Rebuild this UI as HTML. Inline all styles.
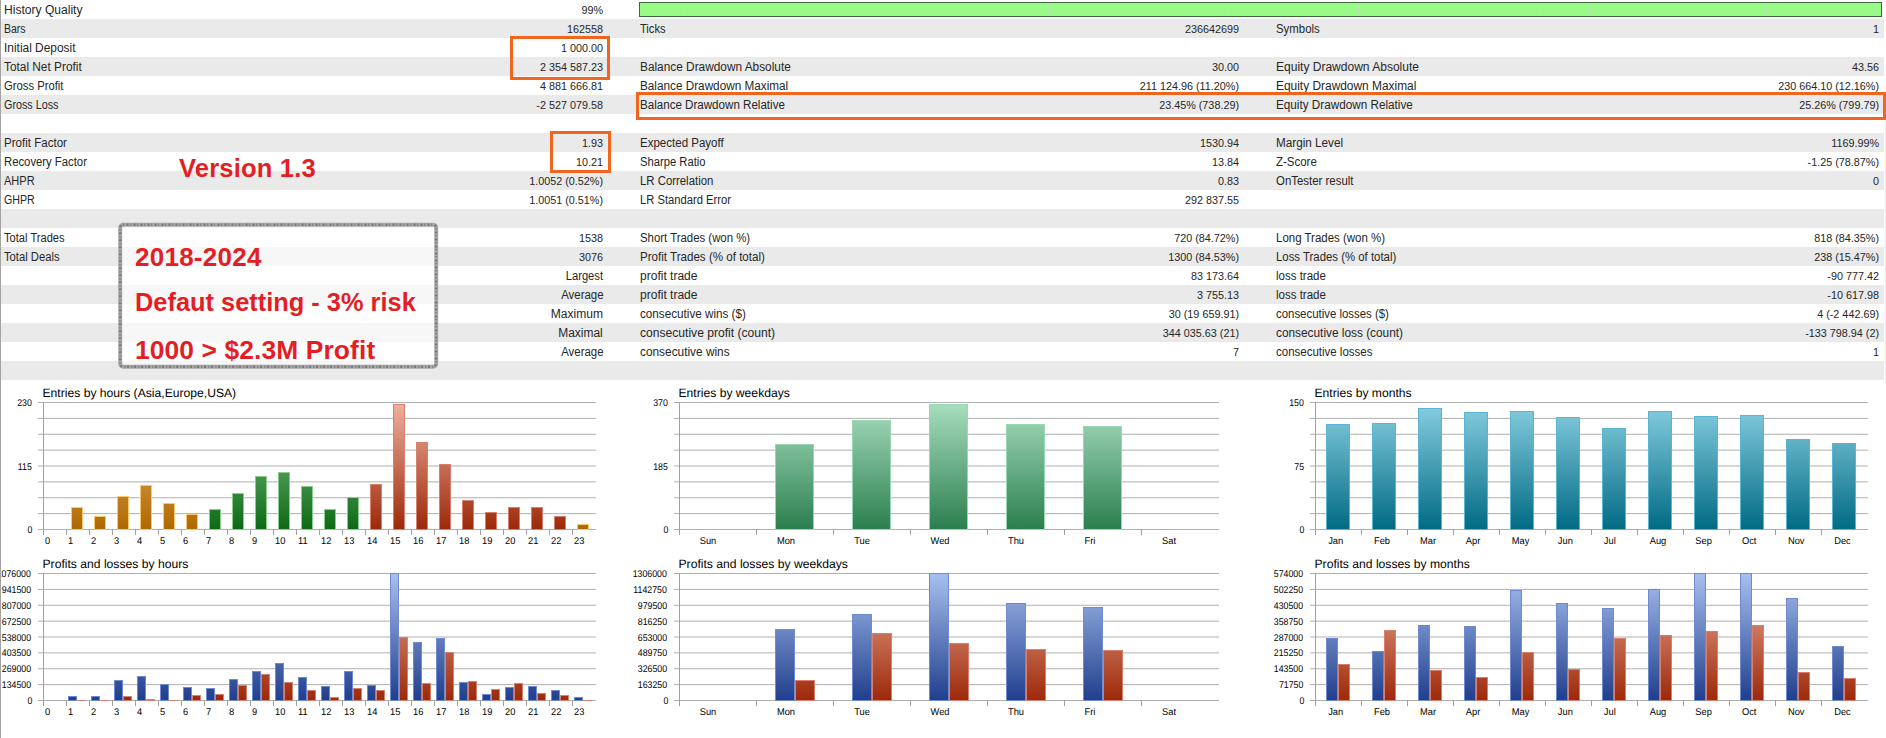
<!DOCTYPE html>
<html><head><meta charset="utf-8"><style>
html,body{margin:0;padding:0;background:#fff;}
body{width:1886px;height:738px;overflow:hidden;position:relative;font-family:"Liberation Sans",sans-serif;color:#000;}
.r{position:absolute;left:1px;width:1883px;height:19px;}
.g{background:#eaeaea;}
.t{position:absolute;top:1px;height:19px;line-height:19px;white-space:nowrap;color:#262626;}
.l{font-size:12.00px;}
.s{display:inline-block;transform-origin:0 50%;}
.sr{display:inline-block;transform-origin:100% 50%;}
.v{font-size:10.80px;text-align:right;}
.ob{position:absolute;border:3px solid #f0661e;box-sizing:border-box;}
.red{position:absolute;color:#e31e24;font-weight:bold;white-space:nowrap;line-height:1;}
</style></head><body>

<div style="position:absolute;left:0;top:0;width:1px;height:738px;background:#a3a3a3"></div>
<svg style="position:absolute;left:0;top:0" width="1886" height="738" font-family="Liberation Sans, sans-serif" text-rendering="geometricPrecision"><clipPath id="cp"><rect x="1" y="0" width="1885" height="738"/></clipPath><g clip-path="url(#cp)">
<defs><linearGradient id="gR1" gradientUnits="userSpaceOnUse" x1="0" y1="402" x2="0" y2="530"><stop offset="0" stop-color="#f0b2a0"/><stop offset="1" stop-color="#9c2808"/></linearGradient><linearGradient id="gO1" gradientUnits="userSpaceOnUse" x1="0" y1="402" x2="0" y2="530"><stop offset="0" stop-color="#eec080"/><stop offset="1" stop-color="#b06800"/></linearGradient><linearGradient id="gG1" gradientUnits="userSpaceOnUse" x1="0" y1="402" x2="0" y2="530"><stop offset="0" stop-color="#98cc98"/><stop offset="1" stop-color="#0a6a14"/></linearGradient><linearGradient id="gW" gradientUnits="userSpaceOnUse" x1="0" y1="402" x2="0" y2="530"><stop offset="0" stop-color="#aadfc0"/><stop offset="1" stop-color="#2a7e4e"/></linearGradient><linearGradient id="gM" gradientUnits="userSpaceOnUse" x1="0" y1="402" x2="0" y2="530"><stop offset="0" stop-color="#8ad0e2"/><stop offset="1" stop-color="#006a84"/></linearGradient><linearGradient id="gB2" gradientUnits="userSpaceOnUse" x1="0" y1="573" x2="0" y2="701"><stop offset="0" stop-color="#a8c0f0"/><stop offset="1" stop-color="#1f3e8c"/></linearGradient><linearGradient id="gR2" gradientUnits="userSpaceOnUse" x1="0" y1="573" x2="0" y2="701"><stop offset="0" stop-color="#f0b2a0"/><stop offset="1" stop-color="#9c2808"/></linearGradient></defs>
<line x1="38" y1="402.500" x2="596.0" y2="402.500" stroke="#b0b0b0" stroke-width="1"/>
<line x1="38" y1="418.375" x2="596.0" y2="418.375" stroke="#b0b0b0" stroke-width="1"/>
<line x1="38" y1="434.250" x2="596.0" y2="434.250" stroke="#b0b0b0" stroke-width="1"/>
<line x1="38" y1="450.125" x2="596.0" y2="450.125" stroke="#b0b0b0" stroke-width="1"/>
<line x1="38" y1="466.000" x2="596.0" y2="466.000" stroke="#b0b0b0" stroke-width="1"/>
<line x1="38" y1="481.875" x2="596.0" y2="481.875" stroke="#b0b0b0" stroke-width="1"/>
<line x1="38" y1="497.750" x2="596.0" y2="497.750" stroke="#b0b0b0" stroke-width="1"/>
<line x1="38" y1="513.625" x2="596.0" y2="513.625" stroke="#b0b0b0" stroke-width="1"/>
<line x1="38" y1="529.500" x2="596.0" y2="529.500" stroke="#b0b0b0" stroke-width="1"/>
<line x1="43.5" y1="402" x2="43.5" y2="534" stroke="#a0a0a0" stroke-width="1"/>
<line x1="43.5" y1="529" x2="43.5" y2="535" stroke="#a0a0a0" stroke-width="1"/>
<line x1="66.5" y1="529" x2="66.5" y2="535" stroke="#a0a0a0" stroke-width="1"/>
<line x1="89.5" y1="529" x2="89.5" y2="535" stroke="#a0a0a0" stroke-width="1"/>
<line x1="112.5" y1="529" x2="112.5" y2="535" stroke="#a0a0a0" stroke-width="1"/>
<line x1="135.5" y1="529" x2="135.5" y2="535" stroke="#a0a0a0" stroke-width="1"/>
<line x1="158.5" y1="529" x2="158.5" y2="535" stroke="#a0a0a0" stroke-width="1"/>
<line x1="181.5" y1="529" x2="181.5" y2="535" stroke="#a0a0a0" stroke-width="1"/>
<line x1="204.5" y1="529" x2="204.5" y2="535" stroke="#a0a0a0" stroke-width="1"/>
<line x1="227.5" y1="529" x2="227.5" y2="535" stroke="#a0a0a0" stroke-width="1"/>
<line x1="250.5" y1="529" x2="250.5" y2="535" stroke="#a0a0a0" stroke-width="1"/>
<line x1="273.5" y1="529" x2="273.5" y2="535" stroke="#a0a0a0" stroke-width="1"/>
<line x1="296.5" y1="529" x2="296.5" y2="535" stroke="#a0a0a0" stroke-width="1"/>
<line x1="319.5" y1="529" x2="319.5" y2="535" stroke="#a0a0a0" stroke-width="1"/>
<line x1="342.5" y1="529" x2="342.5" y2="535" stroke="#a0a0a0" stroke-width="1"/>
<line x1="365.5" y1="529" x2="365.5" y2="535" stroke="#a0a0a0" stroke-width="1"/>
<line x1="388.5" y1="529" x2="388.5" y2="535" stroke="#a0a0a0" stroke-width="1"/>
<line x1="411.5" y1="529" x2="411.5" y2="535" stroke="#a0a0a0" stroke-width="1"/>
<line x1="434.5" y1="529" x2="434.5" y2="535" stroke="#a0a0a0" stroke-width="1"/>
<line x1="457.5" y1="529" x2="457.5" y2="535" stroke="#a0a0a0" stroke-width="1"/>
<line x1="480.5" y1="529" x2="480.5" y2="535" stroke="#a0a0a0" stroke-width="1"/>
<line x1="503.5" y1="529" x2="503.5" y2="535" stroke="#a0a0a0" stroke-width="1"/>
<line x1="526.5" y1="529" x2="526.5" y2="535" stroke="#a0a0a0" stroke-width="1"/>
<line x1="549.5" y1="529" x2="549.5" y2="535" stroke="#a0a0a0" stroke-width="1"/>
<line x1="572.5" y1="529" x2="572.5" y2="535" stroke="#a0a0a0" stroke-width="1"/>
<rect x="71.5" y="507.5" width="11" height="22" fill="url(#gO1)" stroke="#f6c870" stroke-width="1"/>
<rect x="94.5" y="516.5" width="11" height="13" fill="url(#gO1)" stroke="#f6c870" stroke-width="1"/>
<rect x="117.5" y="496.5" width="11" height="33" fill="url(#gO1)" stroke="#f6c870" stroke-width="1"/>
<rect x="140.5" y="485.5" width="11" height="44" fill="url(#gO1)" stroke="#f6c870" stroke-width="1"/>
<rect x="163.5" y="503.5" width="11" height="26" fill="url(#gO1)" stroke="#f6c870" stroke-width="1"/>
<rect x="186.5" y="514.5" width="11" height="15" fill="url(#gO1)" stroke="#f6c870" stroke-width="1"/>
<rect x="209.5" y="509.5" width="11" height="20" fill="url(#gG1)" stroke="#8ccc8c" stroke-width="1"/>
<rect x="232.5" y="493.5" width="11" height="36" fill="url(#gG1)" stroke="#8ccc8c" stroke-width="1"/>
<rect x="255.5" y="476.5" width="11" height="53" fill="url(#gG1)" stroke="#8ccc8c" stroke-width="1"/>
<rect x="278.5" y="472.5" width="11" height="57" fill="url(#gG1)" stroke="#8ccc8c" stroke-width="1"/>
<rect x="301.5" y="486.5" width="11" height="43" fill="url(#gG1)" stroke="#8ccc8c" stroke-width="1"/>
<rect x="324.5" y="509.5" width="11" height="20" fill="url(#gG1)" stroke="#8ccc8c" stroke-width="1"/>
<rect x="347.5" y="497.5" width="11" height="32" fill="url(#gG1)" stroke="#8ccc8c" stroke-width="1"/>
<rect x="370.5" y="484.5" width="11" height="45" fill="url(#gR1)" stroke="#d88070" stroke-width="1"/>
<rect x="393.5" y="404.5" width="11" height="125" fill="url(#gR1)" stroke="#d88070" stroke-width="1"/>
<rect x="416.5" y="442.5" width="11" height="87" fill="url(#gR1)" stroke="#d88070" stroke-width="1"/>
<rect x="439.5" y="464.5" width="11" height="65" fill="url(#gR1)" stroke="#d88070" stroke-width="1"/>
<rect x="462.5" y="500.5" width="11" height="29" fill="url(#gR1)" stroke="#d88070" stroke-width="1"/>
<rect x="485.5" y="512.5" width="11" height="17" fill="url(#gR1)" stroke="#d88070" stroke-width="1"/>
<rect x="508.5" y="507.5" width="11" height="22" fill="url(#gR1)" stroke="#d88070" stroke-width="1"/>
<rect x="531.5" y="507.5" width="11" height="22" fill="url(#gR1)" stroke="#d88070" stroke-width="1"/>
<rect x="554.5" y="516.5" width="11" height="13" fill="url(#gR1)" stroke="#d88070" stroke-width="1"/>
<rect x="577.5" y="524.5" width="11" height="5" fill="url(#gO1)" stroke="#f6c870" stroke-width="1"/>
<text x="42.5" y="396.7" font-size="12.15" fill="#000">Entries by hours (Asia,Europe,USA)</text>
<text transform="translate(31.80 406.00) scale(0.895 1)" font-size="9.8" text-anchor="end" fill="#000">230</text>
<text transform="translate(31.80 469.50) scale(0.895 1)" font-size="9.8" text-anchor="end" fill="#000">115</text>
<text transform="translate(32.30 533.00) scale(0.895 1)" font-size="9.8" text-anchor="end" fill="#000">0</text>
<text transform="translate(45.00 544.00) scale(0.950 1)" font-size="9.8" text-anchor="start" fill="#000">0</text>
<text transform="translate(68.00 544.00) scale(0.950 1)" font-size="9.8" text-anchor="start" fill="#000">1</text>
<text transform="translate(91.00 544.00) scale(0.950 1)" font-size="9.8" text-anchor="start" fill="#000">2</text>
<text transform="translate(114.00 544.00) scale(0.950 1)" font-size="9.8" text-anchor="start" fill="#000">3</text>
<text transform="translate(137.00 544.00) scale(0.950 1)" font-size="9.8" text-anchor="start" fill="#000">4</text>
<text transform="translate(160.00 544.00) scale(0.950 1)" font-size="9.8" text-anchor="start" fill="#000">5</text>
<text transform="translate(183.00 544.00) scale(0.950 1)" font-size="9.8" text-anchor="start" fill="#000">6</text>
<text transform="translate(206.00 544.00) scale(0.950 1)" font-size="9.8" text-anchor="start" fill="#000">7</text>
<text transform="translate(229.00 544.00) scale(0.950 1)" font-size="9.8" text-anchor="start" fill="#000">8</text>
<text transform="translate(252.00 544.00) scale(0.950 1)" font-size="9.8" text-anchor="start" fill="#000">9</text>
<text transform="translate(275.00 544.00) scale(0.950 1)" font-size="9.8" text-anchor="start" fill="#000">10</text>
<text transform="translate(298.00 544.00) scale(0.950 1)" font-size="9.8" text-anchor="start" fill="#000">11</text>
<text transform="translate(321.00 544.00) scale(0.950 1)" font-size="9.8" text-anchor="start" fill="#000">12</text>
<text transform="translate(344.00 544.00) scale(0.950 1)" font-size="9.8" text-anchor="start" fill="#000">13</text>
<text transform="translate(367.00 544.00) scale(0.950 1)" font-size="9.8" text-anchor="start" fill="#000">14</text>
<text transform="translate(390.00 544.00) scale(0.950 1)" font-size="9.8" text-anchor="start" fill="#000">15</text>
<text transform="translate(413.00 544.00) scale(0.950 1)" font-size="9.8" text-anchor="start" fill="#000">16</text>
<text transform="translate(436.00 544.00) scale(0.950 1)" font-size="9.8" text-anchor="start" fill="#000">17</text>
<text transform="translate(459.00 544.00) scale(0.950 1)" font-size="9.8" text-anchor="start" fill="#000">18</text>
<text transform="translate(482.00 544.00) scale(0.950 1)" font-size="9.8" text-anchor="start" fill="#000">19</text>
<text transform="translate(505.00 544.00) scale(0.950 1)" font-size="9.8" text-anchor="start" fill="#000">20</text>
<text transform="translate(528.00 544.00) scale(0.950 1)" font-size="9.8" text-anchor="start" fill="#000">21</text>
<text transform="translate(551.00 544.00) scale(0.950 1)" font-size="9.8" text-anchor="start" fill="#000">22</text>
<text transform="translate(574.00 544.00) scale(0.950 1)" font-size="9.8" text-anchor="start" fill="#000">23</text>
<line x1="674" y1="402.500" x2="1219.0" y2="402.500" stroke="#b0b0b0" stroke-width="1"/>
<line x1="674" y1="418.375" x2="1219.0" y2="418.375" stroke="#b0b0b0" stroke-width="1"/>
<line x1="674" y1="434.250" x2="1219.0" y2="434.250" stroke="#b0b0b0" stroke-width="1"/>
<line x1="674" y1="450.125" x2="1219.0" y2="450.125" stroke="#b0b0b0" stroke-width="1"/>
<line x1="674" y1="466.000" x2="1219.0" y2="466.000" stroke="#b0b0b0" stroke-width="1"/>
<line x1="674" y1="481.875" x2="1219.0" y2="481.875" stroke="#b0b0b0" stroke-width="1"/>
<line x1="674" y1="497.750" x2="1219.0" y2="497.750" stroke="#b0b0b0" stroke-width="1"/>
<line x1="674" y1="513.625" x2="1219.0" y2="513.625" stroke="#b0b0b0" stroke-width="1"/>
<line x1="674" y1="529.500" x2="1219.0" y2="529.500" stroke="#b0b0b0" stroke-width="1"/>
<line x1="679.5" y1="402" x2="679.5" y2="534" stroke="#a0a0a0" stroke-width="1"/>
<line x1="679.5" y1="529" x2="679.5" y2="535" stroke="#a0a0a0" stroke-width="1"/>
<line x1="756.5" y1="529" x2="756.5" y2="535" stroke="#a0a0a0" stroke-width="1"/>
<line x1="833.5" y1="529" x2="833.5" y2="535" stroke="#a0a0a0" stroke-width="1"/>
<line x1="910.5" y1="529" x2="910.5" y2="535" stroke="#a0a0a0" stroke-width="1"/>
<line x1="987.5" y1="529" x2="987.5" y2="535" stroke="#a0a0a0" stroke-width="1"/>
<line x1="1064.5" y1="529" x2="1064.5" y2="535" stroke="#a0a0a0" stroke-width="1"/>
<line x1="1141.5" y1="529" x2="1141.5" y2="535" stroke="#a0a0a0" stroke-width="1"/>
<rect x="775.5" y="444.5" width="38" height="85" fill="url(#gW)" stroke="#98d8b0" stroke-width="1"/>
<rect x="852.5" y="420.5" width="38" height="109" fill="url(#gW)" stroke="#98d8b0" stroke-width="1"/>
<rect x="929.5" y="404.5" width="38" height="125" fill="url(#gW)" stroke="#98d8b0" stroke-width="1"/>
<rect x="1006.5" y="424.5" width="38" height="105" fill="url(#gW)" stroke="#98d8b0" stroke-width="1"/>
<rect x="1083.5" y="426.5" width="38" height="103" fill="url(#gW)" stroke="#98d8b0" stroke-width="1"/>
<text x="678.5" y="396.7" font-size="12.15" fill="#000">Entries by weekdays</text>
<text transform="translate(667.80 406.00) scale(0.895 1)" font-size="9.8" text-anchor="end" fill="#000">370</text>
<text transform="translate(667.80 469.50) scale(0.895 1)" font-size="9.8" text-anchor="end" fill="#000">185</text>
<text transform="translate(668.30 533.00) scale(0.895 1)" font-size="9.8" text-anchor="end" fill="#000">0</text>
<text transform="translate(708.00 544.00) scale(0.950 1)" font-size="9.8" text-anchor="middle" fill="#000">Sun</text>
<text transform="translate(786.00 544.00) scale(0.950 1)" font-size="9.8" text-anchor="middle" fill="#000">Mon</text>
<text transform="translate(862.00 544.00) scale(0.950 1)" font-size="9.8" text-anchor="middle" fill="#000">Tue</text>
<text transform="translate(940.00 544.00) scale(0.950 1)" font-size="9.8" text-anchor="middle" fill="#000">Wed</text>
<text transform="translate(1016.00 544.00) scale(0.950 1)" font-size="9.8" text-anchor="middle" fill="#000">Thu</text>
<text transform="translate(1090.00 544.00) scale(0.950 1)" font-size="9.8" text-anchor="middle" fill="#000">Fri</text>
<text transform="translate(1169.00 544.00) scale(0.950 1)" font-size="9.8" text-anchor="middle" fill="#000">Sat</text>
<line x1="1310" y1="402.500" x2="1868.0" y2="402.500" stroke="#b0b0b0" stroke-width="1"/>
<line x1="1310" y1="418.375" x2="1868.0" y2="418.375" stroke="#b0b0b0" stroke-width="1"/>
<line x1="1310" y1="434.250" x2="1868.0" y2="434.250" stroke="#b0b0b0" stroke-width="1"/>
<line x1="1310" y1="450.125" x2="1868.0" y2="450.125" stroke="#b0b0b0" stroke-width="1"/>
<line x1="1310" y1="466.000" x2="1868.0" y2="466.000" stroke="#b0b0b0" stroke-width="1"/>
<line x1="1310" y1="481.875" x2="1868.0" y2="481.875" stroke="#b0b0b0" stroke-width="1"/>
<line x1="1310" y1="497.750" x2="1868.0" y2="497.750" stroke="#b0b0b0" stroke-width="1"/>
<line x1="1310" y1="513.625" x2="1868.0" y2="513.625" stroke="#b0b0b0" stroke-width="1"/>
<line x1="1310" y1="529.500" x2="1868.0" y2="529.500" stroke="#b0b0b0" stroke-width="1"/>
<line x1="1315.5" y1="402" x2="1315.5" y2="534" stroke="#a0a0a0" stroke-width="1"/>
<line x1="1315.5" y1="529" x2="1315.5" y2="535" stroke="#a0a0a0" stroke-width="1"/>
<line x1="1361.5" y1="529" x2="1361.5" y2="535" stroke="#a0a0a0" stroke-width="1"/>
<line x1="1407.5" y1="529" x2="1407.5" y2="535" stroke="#a0a0a0" stroke-width="1"/>
<line x1="1453.5" y1="529" x2="1453.5" y2="535" stroke="#a0a0a0" stroke-width="1"/>
<line x1="1499.5" y1="529" x2="1499.5" y2="535" stroke="#a0a0a0" stroke-width="1"/>
<line x1="1545.5" y1="529" x2="1545.5" y2="535" stroke="#a0a0a0" stroke-width="1"/>
<line x1="1591.5" y1="529" x2="1591.5" y2="535" stroke="#a0a0a0" stroke-width="1"/>
<line x1="1637.5" y1="529" x2="1637.5" y2="535" stroke="#a0a0a0" stroke-width="1"/>
<line x1="1683.5" y1="529" x2="1683.5" y2="535" stroke="#a0a0a0" stroke-width="1"/>
<line x1="1729.5" y1="529" x2="1729.5" y2="535" stroke="#a0a0a0" stroke-width="1"/>
<line x1="1775.5" y1="529" x2="1775.5" y2="535" stroke="#a0a0a0" stroke-width="1"/>
<line x1="1821.5" y1="529" x2="1821.5" y2="535" stroke="#a0a0a0" stroke-width="1"/>
<rect x="1326.5" y="424.5" width="23" height="105" fill="url(#gM)" stroke="#58b6d2" stroke-width="1"/>
<rect x="1372.5" y="423.5" width="23" height="106" fill="url(#gM)" stroke="#58b6d2" stroke-width="1"/>
<rect x="1418.5" y="408.5" width="23" height="121" fill="url(#gM)" stroke="#58b6d2" stroke-width="1"/>
<rect x="1464.5" y="412.5" width="23" height="117" fill="url(#gM)" stroke="#58b6d2" stroke-width="1"/>
<rect x="1510.5" y="411.5" width="23" height="118" fill="url(#gM)" stroke="#58b6d2" stroke-width="1"/>
<rect x="1556.5" y="417.5" width="23" height="112" fill="url(#gM)" stroke="#58b6d2" stroke-width="1"/>
<rect x="1602.5" y="428.5" width="23" height="101" fill="url(#gM)" stroke="#58b6d2" stroke-width="1"/>
<rect x="1648.5" y="411.5" width="23" height="118" fill="url(#gM)" stroke="#58b6d2" stroke-width="1"/>
<rect x="1694.5" y="416.5" width="23" height="113" fill="url(#gM)" stroke="#58b6d2" stroke-width="1"/>
<rect x="1740.5" y="415.5" width="23" height="114" fill="url(#gM)" stroke="#58b6d2" stroke-width="1"/>
<rect x="1786.5" y="439.5" width="23" height="90" fill="url(#gM)" stroke="#58b6d2" stroke-width="1"/>
<rect x="1832.5" y="443.5" width="23" height="86" fill="url(#gM)" stroke="#58b6d2" stroke-width="1"/>
<text x="1314.5" y="396.7" font-size="12.15" fill="#000">Entries by months</text>
<text transform="translate(1303.80 406.00) scale(0.895 1)" font-size="9.8" text-anchor="end" fill="#000">150</text>
<text transform="translate(1304.05 469.50) scale(0.895 1)" font-size="9.8" text-anchor="end" fill="#000">75</text>
<text transform="translate(1304.30 533.00) scale(0.895 1)" font-size="9.8" text-anchor="end" fill="#000">0</text>
<text transform="translate(1335.70 544.00) scale(0.950 1)" font-size="9.8" text-anchor="middle" fill="#000">Jan</text>
<text transform="translate(1382.00 544.00) scale(0.950 1)" font-size="9.8" text-anchor="middle" fill="#000">Feb</text>
<text transform="translate(1428.00 544.00) scale(0.950 1)" font-size="9.8" text-anchor="middle" fill="#000">Mar</text>
<text transform="translate(1473.00 544.00) scale(0.950 1)" font-size="9.8" text-anchor="middle" fill="#000">Apr</text>
<text transform="translate(1520.50 544.00) scale(0.950 1)" font-size="9.8" text-anchor="middle" fill="#000">May</text>
<text transform="translate(1565.30 544.00) scale(0.950 1)" font-size="9.8" text-anchor="middle" fill="#000">Jun</text>
<text transform="translate(1609.80 544.00) scale(0.950 1)" font-size="9.8" text-anchor="middle" fill="#000">Jul</text>
<text transform="translate(1658.00 544.00) scale(0.950 1)" font-size="9.8" text-anchor="middle" fill="#000">Aug</text>
<text transform="translate(1703.60 544.00) scale(0.950 1)" font-size="9.8" text-anchor="middle" fill="#000">Sep</text>
<text transform="translate(1749.20 544.00) scale(0.950 1)" font-size="9.8" text-anchor="middle" fill="#000">Oct</text>
<text transform="translate(1796.20 544.00) scale(0.950 1)" font-size="9.8" text-anchor="middle" fill="#000">Nov</text>
<text transform="translate(1842.50 544.00) scale(0.950 1)" font-size="9.8" text-anchor="middle" fill="#000">Dec</text>
<line x1="38" y1="573.500" x2="596.0" y2="573.500" stroke="#b0b0b0" stroke-width="1"/>
<line x1="38" y1="589.375" x2="596.0" y2="589.375" stroke="#b0b0b0" stroke-width="1"/>
<line x1="38" y1="605.250" x2="596.0" y2="605.250" stroke="#b0b0b0" stroke-width="1"/>
<line x1="38" y1="621.125" x2="596.0" y2="621.125" stroke="#b0b0b0" stroke-width="1"/>
<line x1="38" y1="637.000" x2="596.0" y2="637.000" stroke="#b0b0b0" stroke-width="1"/>
<line x1="38" y1="652.875" x2="596.0" y2="652.875" stroke="#b0b0b0" stroke-width="1"/>
<line x1="38" y1="668.750" x2="596.0" y2="668.750" stroke="#b0b0b0" stroke-width="1"/>
<line x1="38" y1="684.625" x2="596.0" y2="684.625" stroke="#b0b0b0" stroke-width="1"/>
<line x1="38" y1="700.500" x2="596.0" y2="700.500" stroke="#b0b0b0" stroke-width="1"/>
<line x1="43.5" y1="573" x2="43.5" y2="705" stroke="#a0a0a0" stroke-width="1"/>
<line x1="43.5" y1="700" x2="43.5" y2="706" stroke="#a0a0a0" stroke-width="1"/>
<line x1="66.5" y1="700" x2="66.5" y2="706" stroke="#a0a0a0" stroke-width="1"/>
<line x1="89.5" y1="700" x2="89.5" y2="706" stroke="#a0a0a0" stroke-width="1"/>
<line x1="112.5" y1="700" x2="112.5" y2="706" stroke="#a0a0a0" stroke-width="1"/>
<line x1="135.5" y1="700" x2="135.5" y2="706" stroke="#a0a0a0" stroke-width="1"/>
<line x1="158.5" y1="700" x2="158.5" y2="706" stroke="#a0a0a0" stroke-width="1"/>
<line x1="181.5" y1="700" x2="181.5" y2="706" stroke="#a0a0a0" stroke-width="1"/>
<line x1="204.5" y1="700" x2="204.5" y2="706" stroke="#a0a0a0" stroke-width="1"/>
<line x1="227.5" y1="700" x2="227.5" y2="706" stroke="#a0a0a0" stroke-width="1"/>
<line x1="250.5" y1="700" x2="250.5" y2="706" stroke="#a0a0a0" stroke-width="1"/>
<line x1="273.5" y1="700" x2="273.5" y2="706" stroke="#a0a0a0" stroke-width="1"/>
<line x1="296.5" y1="700" x2="296.5" y2="706" stroke="#a0a0a0" stroke-width="1"/>
<line x1="319.5" y1="700" x2="319.5" y2="706" stroke="#a0a0a0" stroke-width="1"/>
<line x1="342.5" y1="700" x2="342.5" y2="706" stroke="#a0a0a0" stroke-width="1"/>
<line x1="365.5" y1="700" x2="365.5" y2="706" stroke="#a0a0a0" stroke-width="1"/>
<line x1="388.5" y1="700" x2="388.5" y2="706" stroke="#a0a0a0" stroke-width="1"/>
<line x1="411.5" y1="700" x2="411.5" y2="706" stroke="#a0a0a0" stroke-width="1"/>
<line x1="434.5" y1="700" x2="434.5" y2="706" stroke="#a0a0a0" stroke-width="1"/>
<line x1="457.5" y1="700" x2="457.5" y2="706" stroke="#a0a0a0" stroke-width="1"/>
<line x1="480.5" y1="700" x2="480.5" y2="706" stroke="#a0a0a0" stroke-width="1"/>
<line x1="503.5" y1="700" x2="503.5" y2="706" stroke="#a0a0a0" stroke-width="1"/>
<line x1="526.5" y1="700" x2="526.5" y2="706" stroke="#a0a0a0" stroke-width="1"/>
<line x1="549.5" y1="700" x2="549.5" y2="706" stroke="#a0a0a0" stroke-width="1"/>
<line x1="572.5" y1="700" x2="572.5" y2="706" stroke="#a0a0a0" stroke-width="1"/>
<rect x="68.5" y="696.5" width="8" height="4" fill="url(#gB2)" stroke="#6f8ad0" stroke-width="1"/>
<rect x="77" y="700" width="9" height="1" fill="#d88070"/>
<rect x="91.5" y="696.5" width="8" height="4" fill="url(#gB2)" stroke="#6f8ad0" stroke-width="1"/>
<rect x="100" y="700" width="9" height="1" fill="#d88070"/>
<rect x="114.5" y="680.5" width="8" height="20" fill="url(#gB2)" stroke="#6f8ad0" stroke-width="1"/>
<rect x="123.5" y="696.5" width="8" height="4" fill="url(#gR2)" stroke="#d88070" stroke-width="1"/>
<rect x="137.5" y="676.5" width="8" height="24" fill="url(#gB2)" stroke="#6f8ad0" stroke-width="1"/>
<rect x="146.5" y="699.5" width="8" height="1" fill="url(#gR2)" stroke="#d88070" stroke-width="1"/>
<rect x="160.5" y="684.5" width="8" height="16" fill="url(#gB2)" stroke="#6f8ad0" stroke-width="1"/>
<rect x="169" y="700" width="9" height="1" fill="#d88070"/>
<rect x="183.5" y="687.5" width="8" height="13" fill="url(#gB2)" stroke="#6f8ad0" stroke-width="1"/>
<rect x="192.5" y="695.5" width="8" height="5" fill="url(#gR2)" stroke="#d88070" stroke-width="1"/>
<rect x="206.5" y="688.5" width="8" height="12" fill="url(#gB2)" stroke="#6f8ad0" stroke-width="1"/>
<rect x="215.5" y="694.5" width="8" height="6" fill="url(#gR2)" stroke="#d88070" stroke-width="1"/>
<rect x="229.5" y="679.5" width="8" height="21" fill="url(#gB2)" stroke="#6f8ad0" stroke-width="1"/>
<rect x="238.5" y="685.5" width="8" height="15" fill="url(#gR2)" stroke="#d88070" stroke-width="1"/>
<rect x="252.5" y="671.5" width="8" height="29" fill="url(#gB2)" stroke="#6f8ad0" stroke-width="1"/>
<rect x="261.5" y="674.5" width="8" height="26" fill="url(#gR2)" stroke="#d88070" stroke-width="1"/>
<rect x="275.5" y="663.5" width="8" height="37" fill="url(#gB2)" stroke="#6f8ad0" stroke-width="1"/>
<rect x="284.5" y="682.5" width="8" height="18" fill="url(#gR2)" stroke="#d88070" stroke-width="1"/>
<rect x="298.5" y="677.5" width="8" height="23" fill="url(#gB2)" stroke="#6f8ad0" stroke-width="1"/>
<rect x="307.5" y="690.5" width="8" height="10" fill="url(#gR2)" stroke="#d88070" stroke-width="1"/>
<rect x="321.5" y="686.5" width="8" height="14" fill="url(#gB2)" stroke="#6f8ad0" stroke-width="1"/>
<rect x="330.5" y="697.5" width="8" height="3" fill="url(#gR2)" stroke="#d88070" stroke-width="1"/>
<rect x="344.5" y="671.5" width="8" height="29" fill="url(#gB2)" stroke="#6f8ad0" stroke-width="1"/>
<rect x="353.5" y="688.5" width="8" height="12" fill="url(#gR2)" stroke="#d88070" stroke-width="1"/>
<rect x="367.5" y="685.5" width="8" height="15" fill="url(#gB2)" stroke="#6f8ad0" stroke-width="1"/>
<rect x="376.5" y="690.5" width="8" height="10" fill="url(#gR2)" stroke="#d88070" stroke-width="1"/>
<rect x="390.5" y="573.5" width="8" height="127" fill="url(#gB2)" stroke="#6f8ad0" stroke-width="1"/>
<rect x="399.5" y="637.5" width="8" height="63" fill="url(#gR2)" stroke="#d88070" stroke-width="1"/>
<rect x="413.5" y="642.5" width="8" height="58" fill="url(#gB2)" stroke="#6f8ad0" stroke-width="1"/>
<rect x="422.5" y="683.5" width="8" height="17" fill="url(#gR2)" stroke="#d88070" stroke-width="1"/>
<rect x="436.5" y="638.5" width="8" height="62" fill="url(#gB2)" stroke="#6f8ad0" stroke-width="1"/>
<rect x="445.5" y="652.5" width="8" height="48" fill="url(#gR2)" stroke="#d88070" stroke-width="1"/>
<rect x="459.5" y="682.5" width="8" height="18" fill="url(#gB2)" stroke="#6f8ad0" stroke-width="1"/>
<rect x="468.5" y="681.5" width="8" height="19" fill="url(#gR2)" stroke="#d88070" stroke-width="1"/>
<rect x="482.5" y="694.5" width="8" height="6" fill="url(#gB2)" stroke="#6f8ad0" stroke-width="1"/>
<rect x="491.5" y="689.5" width="8" height="11" fill="url(#gR2)" stroke="#d88070" stroke-width="1"/>
<rect x="505.5" y="687.5" width="8" height="13" fill="url(#gB2)" stroke="#6f8ad0" stroke-width="1"/>
<rect x="514.5" y="683.5" width="8" height="17" fill="url(#gR2)" stroke="#d88070" stroke-width="1"/>
<rect x="528.5" y="686.5" width="8" height="14" fill="url(#gB2)" stroke="#6f8ad0" stroke-width="1"/>
<rect x="537.5" y="693.5" width="8" height="7" fill="url(#gR2)" stroke="#d88070" stroke-width="1"/>
<rect x="551.5" y="690.5" width="8" height="10" fill="url(#gB2)" stroke="#6f8ad0" stroke-width="1"/>
<rect x="560.5" y="695.5" width="8" height="5" fill="url(#gR2)" stroke="#d88070" stroke-width="1"/>
<rect x="574.5" y="697.5" width="8" height="3" fill="url(#gB2)" stroke="#6f8ad0" stroke-width="1"/>
<rect x="583" y="700" width="9" height="1" fill="#d88070"/>
<text x="42.5" y="567.7" font-size="12.15" fill="#000">Profits and losses by hours</text>
<text transform="translate(30.80 577.00) scale(0.895 1)" font-size="9.8" text-anchor="end" fill="#000">1076000</text>
<text transform="translate(31.05 592.88) scale(0.895 1)" font-size="9.8" text-anchor="end" fill="#000">941500</text>
<text transform="translate(31.05 608.75) scale(0.895 1)" font-size="9.8" text-anchor="end" fill="#000">807000</text>
<text transform="translate(31.05 624.62) scale(0.895 1)" font-size="9.8" text-anchor="end" fill="#000">672500</text>
<text transform="translate(31.05 640.50) scale(0.895 1)" font-size="9.8" text-anchor="end" fill="#000">538000</text>
<text transform="translate(31.05 656.38) scale(0.895 1)" font-size="9.8" text-anchor="end" fill="#000">403500</text>
<text transform="translate(31.05 672.25) scale(0.895 1)" font-size="9.8" text-anchor="end" fill="#000">269000</text>
<text transform="translate(31.05 688.12) scale(0.895 1)" font-size="9.8" text-anchor="end" fill="#000">134500</text>
<text transform="translate(32.30 704.00) scale(0.895 1)" font-size="9.8" text-anchor="end" fill="#000">0</text>
<text transform="translate(45.00 715.00) scale(0.950 1)" font-size="9.8" text-anchor="start" fill="#000">0</text>
<text transform="translate(68.00 715.00) scale(0.950 1)" font-size="9.8" text-anchor="start" fill="#000">1</text>
<text transform="translate(91.00 715.00) scale(0.950 1)" font-size="9.8" text-anchor="start" fill="#000">2</text>
<text transform="translate(114.00 715.00) scale(0.950 1)" font-size="9.8" text-anchor="start" fill="#000">3</text>
<text transform="translate(137.00 715.00) scale(0.950 1)" font-size="9.8" text-anchor="start" fill="#000">4</text>
<text transform="translate(160.00 715.00) scale(0.950 1)" font-size="9.8" text-anchor="start" fill="#000">5</text>
<text transform="translate(183.00 715.00) scale(0.950 1)" font-size="9.8" text-anchor="start" fill="#000">6</text>
<text transform="translate(206.00 715.00) scale(0.950 1)" font-size="9.8" text-anchor="start" fill="#000">7</text>
<text transform="translate(229.00 715.00) scale(0.950 1)" font-size="9.8" text-anchor="start" fill="#000">8</text>
<text transform="translate(252.00 715.00) scale(0.950 1)" font-size="9.8" text-anchor="start" fill="#000">9</text>
<text transform="translate(275.00 715.00) scale(0.950 1)" font-size="9.8" text-anchor="start" fill="#000">10</text>
<text transform="translate(298.00 715.00) scale(0.950 1)" font-size="9.8" text-anchor="start" fill="#000">11</text>
<text transform="translate(321.00 715.00) scale(0.950 1)" font-size="9.8" text-anchor="start" fill="#000">12</text>
<text transform="translate(344.00 715.00) scale(0.950 1)" font-size="9.8" text-anchor="start" fill="#000">13</text>
<text transform="translate(367.00 715.00) scale(0.950 1)" font-size="9.8" text-anchor="start" fill="#000">14</text>
<text transform="translate(390.00 715.00) scale(0.950 1)" font-size="9.8" text-anchor="start" fill="#000">15</text>
<text transform="translate(413.00 715.00) scale(0.950 1)" font-size="9.8" text-anchor="start" fill="#000">16</text>
<text transform="translate(436.00 715.00) scale(0.950 1)" font-size="9.8" text-anchor="start" fill="#000">17</text>
<text transform="translate(459.00 715.00) scale(0.950 1)" font-size="9.8" text-anchor="start" fill="#000">18</text>
<text transform="translate(482.00 715.00) scale(0.950 1)" font-size="9.8" text-anchor="start" fill="#000">19</text>
<text transform="translate(505.00 715.00) scale(0.950 1)" font-size="9.8" text-anchor="start" fill="#000">20</text>
<text transform="translate(528.00 715.00) scale(0.950 1)" font-size="9.8" text-anchor="start" fill="#000">21</text>
<text transform="translate(551.00 715.00) scale(0.950 1)" font-size="9.8" text-anchor="start" fill="#000">22</text>
<text transform="translate(574.00 715.00) scale(0.950 1)" font-size="9.8" text-anchor="start" fill="#000">23</text>
<line x1="674" y1="573.500" x2="1219.0" y2="573.500" stroke="#b0b0b0" stroke-width="1"/>
<line x1="674" y1="589.375" x2="1219.0" y2="589.375" stroke="#b0b0b0" stroke-width="1"/>
<line x1="674" y1="605.250" x2="1219.0" y2="605.250" stroke="#b0b0b0" stroke-width="1"/>
<line x1="674" y1="621.125" x2="1219.0" y2="621.125" stroke="#b0b0b0" stroke-width="1"/>
<line x1="674" y1="637.000" x2="1219.0" y2="637.000" stroke="#b0b0b0" stroke-width="1"/>
<line x1="674" y1="652.875" x2="1219.0" y2="652.875" stroke="#b0b0b0" stroke-width="1"/>
<line x1="674" y1="668.750" x2="1219.0" y2="668.750" stroke="#b0b0b0" stroke-width="1"/>
<line x1="674" y1="684.625" x2="1219.0" y2="684.625" stroke="#b0b0b0" stroke-width="1"/>
<line x1="674" y1="700.500" x2="1219.0" y2="700.500" stroke="#b0b0b0" stroke-width="1"/>
<line x1="679.5" y1="573" x2="679.5" y2="705" stroke="#a0a0a0" stroke-width="1"/>
<line x1="679.5" y1="700" x2="679.5" y2="706" stroke="#a0a0a0" stroke-width="1"/>
<line x1="756.5" y1="700" x2="756.5" y2="706" stroke="#a0a0a0" stroke-width="1"/>
<line x1="833.5" y1="700" x2="833.5" y2="706" stroke="#a0a0a0" stroke-width="1"/>
<line x1="910.5" y1="700" x2="910.5" y2="706" stroke="#a0a0a0" stroke-width="1"/>
<line x1="987.5" y1="700" x2="987.5" y2="706" stroke="#a0a0a0" stroke-width="1"/>
<line x1="1064.5" y1="700" x2="1064.5" y2="706" stroke="#a0a0a0" stroke-width="1"/>
<line x1="1141.5" y1="700" x2="1141.5" y2="706" stroke="#a0a0a0" stroke-width="1"/>
<rect x="775.5" y="629.5" width="19" height="71" fill="url(#gB2)" stroke="#6f8ad0" stroke-width="1"/>
<rect x="795.5" y="680.5" width="19" height="20" fill="url(#gR2)" stroke="#d88070" stroke-width="1"/>
<rect x="852.5" y="614.5" width="19" height="86" fill="url(#gB2)" stroke="#6f8ad0" stroke-width="1"/>
<rect x="872.5" y="633.5" width="19" height="67" fill="url(#gR2)" stroke="#d88070" stroke-width="1"/>
<rect x="929.5" y="573.5" width="19" height="127" fill="url(#gB2)" stroke="#6f8ad0" stroke-width="1"/>
<rect x="949.5" y="643.5" width="19" height="57" fill="url(#gR2)" stroke="#d88070" stroke-width="1"/>
<rect x="1006.5" y="603.5" width="19" height="97" fill="url(#gB2)" stroke="#6f8ad0" stroke-width="1"/>
<rect x="1026.5" y="649.5" width="19" height="51" fill="url(#gR2)" stroke="#d88070" stroke-width="1"/>
<rect x="1083.5" y="607.5" width="19" height="93" fill="url(#gB2)" stroke="#6f8ad0" stroke-width="1"/>
<rect x="1103.5" y="650.5" width="19" height="50" fill="url(#gR2)" stroke="#d88070" stroke-width="1"/>
<text x="678.5" y="567.7" font-size="12.15" fill="#000">Profits and losses by weekdays</text>
<text transform="translate(666.80 577.00) scale(0.895 1)" font-size="9.8" text-anchor="end" fill="#000">1306000</text>
<text transform="translate(666.80 592.88) scale(0.895 1)" font-size="9.8" text-anchor="end" fill="#000">1142750</text>
<text transform="translate(667.05 608.75) scale(0.895 1)" font-size="9.8" text-anchor="end" fill="#000">979500</text>
<text transform="translate(667.05 624.62) scale(0.895 1)" font-size="9.8" text-anchor="end" fill="#000">816250</text>
<text transform="translate(667.05 640.50) scale(0.895 1)" font-size="9.8" text-anchor="end" fill="#000">653000</text>
<text transform="translate(667.05 656.38) scale(0.895 1)" font-size="9.8" text-anchor="end" fill="#000">489750</text>
<text transform="translate(667.05 672.25) scale(0.895 1)" font-size="9.8" text-anchor="end" fill="#000">326500</text>
<text transform="translate(667.05 688.12) scale(0.895 1)" font-size="9.8" text-anchor="end" fill="#000">163250</text>
<text transform="translate(668.30 704.00) scale(0.895 1)" font-size="9.8" text-anchor="end" fill="#000">0</text>
<text transform="translate(708.00 715.00) scale(0.950 1)" font-size="9.8" text-anchor="middle" fill="#000">Sun</text>
<text transform="translate(786.00 715.00) scale(0.950 1)" font-size="9.8" text-anchor="middle" fill="#000">Mon</text>
<text transform="translate(862.00 715.00) scale(0.950 1)" font-size="9.8" text-anchor="middle" fill="#000">Tue</text>
<text transform="translate(940.00 715.00) scale(0.950 1)" font-size="9.8" text-anchor="middle" fill="#000">Wed</text>
<text transform="translate(1016.00 715.00) scale(0.950 1)" font-size="9.8" text-anchor="middle" fill="#000">Thu</text>
<text transform="translate(1090.00 715.00) scale(0.950 1)" font-size="9.8" text-anchor="middle" fill="#000">Fri</text>
<text transform="translate(1169.00 715.00) scale(0.950 1)" font-size="9.8" text-anchor="middle" fill="#000">Sat</text>
<line x1="1310" y1="573.500" x2="1868.0" y2="573.500" stroke="#b0b0b0" stroke-width="1"/>
<line x1="1310" y1="589.375" x2="1868.0" y2="589.375" stroke="#b0b0b0" stroke-width="1"/>
<line x1="1310" y1="605.250" x2="1868.0" y2="605.250" stroke="#b0b0b0" stroke-width="1"/>
<line x1="1310" y1="621.125" x2="1868.0" y2="621.125" stroke="#b0b0b0" stroke-width="1"/>
<line x1="1310" y1="637.000" x2="1868.0" y2="637.000" stroke="#b0b0b0" stroke-width="1"/>
<line x1="1310" y1="652.875" x2="1868.0" y2="652.875" stroke="#b0b0b0" stroke-width="1"/>
<line x1="1310" y1="668.750" x2="1868.0" y2="668.750" stroke="#b0b0b0" stroke-width="1"/>
<line x1="1310" y1="684.625" x2="1868.0" y2="684.625" stroke="#b0b0b0" stroke-width="1"/>
<line x1="1310" y1="700.500" x2="1868.0" y2="700.500" stroke="#b0b0b0" stroke-width="1"/>
<line x1="1315.5" y1="573" x2="1315.5" y2="705" stroke="#a0a0a0" stroke-width="1"/>
<line x1="1315.5" y1="700" x2="1315.5" y2="706" stroke="#a0a0a0" stroke-width="1"/>
<line x1="1361.5" y1="700" x2="1361.5" y2="706" stroke="#a0a0a0" stroke-width="1"/>
<line x1="1407.5" y1="700" x2="1407.5" y2="706" stroke="#a0a0a0" stroke-width="1"/>
<line x1="1453.5" y1="700" x2="1453.5" y2="706" stroke="#a0a0a0" stroke-width="1"/>
<line x1="1499.5" y1="700" x2="1499.5" y2="706" stroke="#a0a0a0" stroke-width="1"/>
<line x1="1545.5" y1="700" x2="1545.5" y2="706" stroke="#a0a0a0" stroke-width="1"/>
<line x1="1591.5" y1="700" x2="1591.5" y2="706" stroke="#a0a0a0" stroke-width="1"/>
<line x1="1637.5" y1="700" x2="1637.5" y2="706" stroke="#a0a0a0" stroke-width="1"/>
<line x1="1683.5" y1="700" x2="1683.5" y2="706" stroke="#a0a0a0" stroke-width="1"/>
<line x1="1729.5" y1="700" x2="1729.5" y2="706" stroke="#a0a0a0" stroke-width="1"/>
<line x1="1775.5" y1="700" x2="1775.5" y2="706" stroke="#a0a0a0" stroke-width="1"/>
<line x1="1821.5" y1="700" x2="1821.5" y2="706" stroke="#a0a0a0" stroke-width="1"/>
<rect x="1326.5" y="638.5" width="11" height="62" fill="url(#gB2)" stroke="#6f8ad0" stroke-width="1"/>
<rect x="1338.5" y="664.5" width="11" height="36" fill="url(#gR2)" stroke="#d88070" stroke-width="1"/>
<rect x="1372.5" y="651.5" width="11" height="49" fill="url(#gB2)" stroke="#6f8ad0" stroke-width="1"/>
<rect x="1384.5" y="630.5" width="11" height="70" fill="url(#gR2)" stroke="#d88070" stroke-width="1"/>
<rect x="1418.5" y="625.5" width="11" height="75" fill="url(#gB2)" stroke="#6f8ad0" stroke-width="1"/>
<rect x="1430.5" y="670.5" width="11" height="30" fill="url(#gR2)" stroke="#d88070" stroke-width="1"/>
<rect x="1464.5" y="626.5" width="11" height="74" fill="url(#gB2)" stroke="#6f8ad0" stroke-width="1"/>
<rect x="1476.5" y="677.5" width="11" height="23" fill="url(#gR2)" stroke="#d88070" stroke-width="1"/>
<rect x="1510.5" y="590.5" width="11" height="110" fill="url(#gB2)" stroke="#6f8ad0" stroke-width="1"/>
<rect x="1522.5" y="652.5" width="11" height="48" fill="url(#gR2)" stroke="#d88070" stroke-width="1"/>
<rect x="1556.5" y="603.5" width="11" height="97" fill="url(#gB2)" stroke="#6f8ad0" stroke-width="1"/>
<rect x="1568.5" y="669.5" width="11" height="31" fill="url(#gR2)" stroke="#d88070" stroke-width="1"/>
<rect x="1602.5" y="608.5" width="11" height="92" fill="url(#gB2)" stroke="#6f8ad0" stroke-width="1"/>
<rect x="1614.5" y="638.5" width="11" height="62" fill="url(#gR2)" stroke="#d88070" stroke-width="1"/>
<rect x="1648.5" y="589.5" width="11" height="111" fill="url(#gB2)" stroke="#6f8ad0" stroke-width="1"/>
<rect x="1660.5" y="635.5" width="11" height="65" fill="url(#gR2)" stroke="#d88070" stroke-width="1"/>
<rect x="1694.5" y="573.5" width="11" height="127" fill="url(#gB2)" stroke="#6f8ad0" stroke-width="1"/>
<rect x="1706.5" y="631.5" width="11" height="69" fill="url(#gR2)" stroke="#d88070" stroke-width="1"/>
<rect x="1740.5" y="573.5" width="11" height="127" fill="url(#gB2)" stroke="#6f8ad0" stroke-width="1"/>
<rect x="1752.5" y="625.5" width="11" height="75" fill="url(#gR2)" stroke="#d88070" stroke-width="1"/>
<rect x="1786.5" y="598.5" width="11" height="102" fill="url(#gB2)" stroke="#6f8ad0" stroke-width="1"/>
<rect x="1798.5" y="672.5" width="11" height="28" fill="url(#gR2)" stroke="#d88070" stroke-width="1"/>
<rect x="1832.5" y="646.5" width="11" height="54" fill="url(#gB2)" stroke="#6f8ad0" stroke-width="1"/>
<rect x="1844.5" y="678.5" width="11" height="22" fill="url(#gR2)" stroke="#d88070" stroke-width="1"/>
<text x="1314.5" y="567.7" font-size="12.15" fill="#000">Profits and losses by months</text>
<text transform="translate(1303.05 577.00) scale(0.895 1)" font-size="9.8" text-anchor="end" fill="#000">574000</text>
<text transform="translate(1303.05 592.88) scale(0.895 1)" font-size="9.8" text-anchor="end" fill="#000">502250</text>
<text transform="translate(1303.05 608.75) scale(0.895 1)" font-size="9.8" text-anchor="end" fill="#000">430500</text>
<text transform="translate(1303.05 624.62) scale(0.895 1)" font-size="9.8" text-anchor="end" fill="#000">358750</text>
<text transform="translate(1303.05 640.50) scale(0.895 1)" font-size="9.8" text-anchor="end" fill="#000">287000</text>
<text transform="translate(1303.05 656.38) scale(0.895 1)" font-size="9.8" text-anchor="end" fill="#000">215250</text>
<text transform="translate(1303.05 672.25) scale(0.895 1)" font-size="9.8" text-anchor="end" fill="#000">143500</text>
<text transform="translate(1303.30 688.12) scale(0.895 1)" font-size="9.8" text-anchor="end" fill="#000">71750</text>
<text transform="translate(1304.30 704.00) scale(0.895 1)" font-size="9.8" text-anchor="end" fill="#000">0</text>
<text transform="translate(1335.70 715.00) scale(0.950 1)" font-size="9.8" text-anchor="middle" fill="#000">Jan</text>
<text transform="translate(1382.00 715.00) scale(0.950 1)" font-size="9.8" text-anchor="middle" fill="#000">Feb</text>
<text transform="translate(1428.00 715.00) scale(0.950 1)" font-size="9.8" text-anchor="middle" fill="#000">Mar</text>
<text transform="translate(1473.00 715.00) scale(0.950 1)" font-size="9.8" text-anchor="middle" fill="#000">Apr</text>
<text transform="translate(1520.50 715.00) scale(0.950 1)" font-size="9.8" text-anchor="middle" fill="#000">May</text>
<text transform="translate(1565.30 715.00) scale(0.950 1)" font-size="9.8" text-anchor="middle" fill="#000">Jun</text>
<text transform="translate(1609.80 715.00) scale(0.950 1)" font-size="9.8" text-anchor="middle" fill="#000">Jul</text>
<text transform="translate(1658.00 715.00) scale(0.950 1)" font-size="9.8" text-anchor="middle" fill="#000">Aug</text>
<text transform="translate(1703.60 715.00) scale(0.950 1)" font-size="9.8" text-anchor="middle" fill="#000">Sep</text>
<text transform="translate(1749.20 715.00) scale(0.950 1)" font-size="9.8" text-anchor="middle" fill="#000">Oct</text>
<text transform="translate(1796.20 715.00) scale(0.950 1)" font-size="9.8" text-anchor="middle" fill="#000">Nov</text>
<text transform="translate(1842.50 715.00) scale(0.950 1)" font-size="9.8" text-anchor="middle" fill="#000">Dec</text>
</g></svg>
<div style="position:absolute;left:1885px;top:120px;width:1px;height:263px;background:#ececec"></div>
<div class="r" style="top:0px">
<div class="t l" style="left:3px"><span class="s" style="transform:scaleX(1.0063)">History Quality</span></div>
<div class="t v" style="right:1281px;text-align:right">99%</div>
</div>
<div class="r g" style="top:19px">
<div class="t l" style="left:3px"><span class="s" style="transform:scaleX(0.8755)">Bars</span></div>
<div class="t v" style="right:1281px;text-align:right">162558</div>
<div class="t l" style="left:639px"><span class="s" style="transform:scaleX(0.9255)">Ticks</span></div>
<div class="t v" style="right:645px;text-align:right">236642699</div>
<div class="t l" style="left:1275px"><span class="s" style="transform:scaleX(0.9496)">Symbols</span></div>
<div class="t v" style="right:5px;text-align:right">1</div>
</div>
<div class="r" style="top:38px">
<div class="t l" style="left:3px"><span class="s" style="transform:scaleX(0.9926)">Initial Deposit</span></div>
<div class="t v" style="right:1281px;text-align:right">1 000.00</div>
</div>
<div class="r g" style="top:57px">
<div class="t l" style="left:3px"><span class="s" style="transform:scaleX(0.9873)">Total Net Profit</span></div>
<div class="t v" style="right:1281px;text-align:right">2 354 587.23</div>
<div class="t l" style="left:639px"><span class="s" style="transform:scaleX(0.9872)">Balance Drawdown Absolute</span></div>
<div class="t v" style="right:645px;text-align:right">30.00</div>
<div class="t l" style="left:1275px"><span class="s" style="transform:scaleX(1.0017)">Equity Drawdown Absolute</span></div>
<div class="t v" style="right:5px;text-align:right">43.56</div>
</div>
<div class="r" style="top:76px">
<div class="t l" style="left:3px"><span class="s" style="transform:scaleX(0.9393)">Gross Profit</span></div>
<div class="t v" style="right:1281px;text-align:right">4 881 666.81</div>
<div class="t l" style="left:639px"><span class="s" style="transform:scaleX(0.9789)">Balance Drawdown Maximal</span></div>
<div class="t v" style="right:645px;text-align:right">211 124.96 (11.20%)</div>
<div class="t l" style="left:1275px"><span class="s" style="transform:scaleX(0.9930)">Equity Drawdown Maximal</span></div>
<div class="t v" style="right:5px;text-align:right">230 664.10 (12.16%)</div>
</div>
<div class="r g" style="top:95px">
<div class="t l" style="left:3px"><span class="s" style="transform:scaleX(0.8981)">Gross Loss</span></div>
<div class="t v" style="right:1281px;text-align:right">-2 527 079.58</div>
<div class="t l" style="left:639px"><span class="s" style="transform:scaleX(0.9655)">Balance Drawdown Relative</span></div>
<div class="t v" style="right:645px;text-align:right">23.45% (738.29)</div>
<div class="t l" style="left:1275px"><span class="s" style="transform:scaleX(0.9767)">Equity Drawdown Relative</span></div>
<div class="t v" style="right:5px;text-align:right">25.26% (799.79)</div>
</div>
<div class="r" style="top:114px">
</div>
<div class="r g" style="top:133px">
<div class="t l" style="left:3px"><span class="s" style="transform:scaleX(0.9625)">Profit Factor</span></div>
<div class="t v" style="right:1281px;text-align:right">1.93</div>
<div class="t l" style="left:639px"><span class="s" style="transform:scaleX(0.9600)">Expected Payoff</span></div>
<div class="t v" style="right:645px;text-align:right">1530.94</div>
<div class="t l" style="left:1275px"><span class="s" style="transform:scaleX(0.9767)">Margin Level</span></div>
<div class="t v" style="right:5px;text-align:right">1169.99%</div>
</div>
<div class="r" style="top:152px">
<div class="t l" style="left:3px"><span class="s" style="transform:scaleX(0.9418)">Recovery Factor</span></div>
<div class="t v" style="right:1281px;text-align:right">10.21</div>
<div class="t l" style="left:639px"><span class="s" style="transform:scaleX(0.9351)">Sharpe Ratio</span></div>
<div class="t v" style="right:645px;text-align:right">13.84</div>
<div class="t l" style="left:1275px"><span class="s" style="transform:scaleX(0.9561)">Z-Score</span></div>
<div class="t v" style="right:5px;text-align:right">-1.25 (78.87%)</div>
</div>
<div class="r g" style="top:171px">
<div class="t l" style="left:3px"><span class="s" style="transform:scaleX(0.9209)">AHPR</span></div>
<div class="t v" style="right:1281px;text-align:right">1.0052 (0.52%)</div>
<div class="t l" style="left:639px"><span class="s" style="transform:scaleX(0.9475)">LR Correlation</span></div>
<div class="t v" style="right:645px;text-align:right">0.83</div>
<div class="t l" style="left:1275px"><span class="s" style="transform:scaleX(0.9526)">OnTester result</span></div>
<div class="t v" style="right:5px;text-align:right">0</div>
</div>
<div class="r" style="top:190px">
<div class="t l" style="left:3px"><span class="s" style="transform:scaleX(0.8855)">GHPR</span></div>
<div class="t v" style="right:1281px;text-align:right">1.0051 (0.51%)</div>
<div class="t l" style="left:639px"><span class="s" style="transform:scaleX(0.9345)">LR Standard Error</span></div>
<div class="t v" style="right:645px;text-align:right">292 837.55</div>
</div>
<div class="r g" style="top:209px">
</div>
<div class="r" style="top:228px">
<div class="t l" style="left:3px"><span class="s" style="transform:scaleX(0.9271)">Total Trades</span></div>
<div class="t v" style="right:1281px;text-align:right">1538</div>
<div class="t l" style="left:639px"><span class="s" style="transform:scaleX(0.9488)">Short Trades (won %)</span></div>
<div class="t v" style="right:645px;text-align:right">720 (84.72%)</div>
<div class="t l" style="left:1275px"><span class="s" style="transform:scaleX(0.9565)">Long Trades (won %)</span></div>
<div class="t v" style="right:5px;text-align:right">818 (84.35%)</div>
</div>
<div class="r g" style="top:247px">
<div class="t l" style="left:3px"><span class="s" style="transform:scaleX(0.9366)">Total Deals</span></div>
<div class="t v" style="right:1281px;text-align:right">3076</div>
<div class="t l" style="left:639px"><span class="s" style="transform:scaleX(0.9653)">Profit Trades (% of total)</span></div>
<div class="t v" style="right:645px;text-align:right">1300 (84.53%)</div>
<div class="t l" style="left:1275px"><span class="s" style="transform:scaleX(0.9485)">Loss Trades (% of total)</span></div>
<div class="t v" style="right:5px;text-align:right">238 (15.47%)</div>
</div>
<div class="r" style="top:266px">
<div class="t l" style="right:1281px;text-align:right"><span class="sr" style="transform:scaleX(0.9320)">Largest</span></div>
<div class="t l" style="left:639px"><span class="s" style="transform:scaleX(1.0024)">profit trade</span></div>
<div class="t v" style="right:645px;text-align:right">83 173.64</div>
<div class="t l" style="left:1275px"><span class="s" style="transform:scaleX(0.9592)">loss trade</span></div>
<div class="t v" style="right:5px;text-align:right">-90 777.42</div>
</div>
<div class="r g" style="top:285px">
<div class="t l" style="right:1281px;text-align:right"><span class="sr" style="transform:scaleX(0.9509)">Average</span></div>
<div class="t l" style="left:639px"><span class="s" style="transform:scaleX(1.0024)">profit trade</span></div>
<div class="t v" style="right:645px;text-align:right">3 755.13</div>
<div class="t l" style="left:1275px"><span class="s" style="transform:scaleX(0.9592)">loss trade</span></div>
<div class="t v" style="right:5px;text-align:right">-10 617.98</div>
</div>
<div class="r" style="top:304px">
<div class="t l" style="right:1281px;text-align:right"><span class="sr" style="transform:scaleX(1.0056)">Maximum</span></div>
<div class="t l" style="left:639px"><span class="s" style="transform:scaleX(0.9742)">consecutive wins ($)</span></div>
<div class="t v" style="right:645px;text-align:right">30 (19 659.91)</div>
<div class="t l" style="left:1275px"><span class="s" style="transform:scaleX(0.9510)">consecutive losses ($)</span></div>
<div class="t v" style="right:5px;text-align:right">4 (-2 442.69)</div>
</div>
<div class="r g" style="top:323px">
<div class="t l" style="right:1281px;text-align:right"><span class="sr" style="transform:scaleX(0.9938)">Maximal</span></div>
<div class="t l" style="left:639px"><span class="s" style="transform:scaleX(1.0077)">consecutive profit (count)</span></div>
<div class="t v" style="right:645px;text-align:right">344 035.63 (21)</div>
<div class="t l" style="left:1275px"><span class="s" style="transform:scaleX(0.9866)">consecutive loss (count)</span></div>
<div class="t v" style="right:5px;text-align:right">-133 798.94 (2)</div>
</div>
<div class="r" style="top:342px">
<div class="t l" style="right:1281px;text-align:right"><span class="sr" style="transform:scaleX(0.9509)">Average</span></div>
<div class="t l" style="left:639px"><span class="s" style="transform:scaleX(0.9878)">consecutive wins</span></div>
<div class="t v" style="right:645px;text-align:right">7</div>
<div class="t l" style="left:1275px"><span class="s" style="transform:scaleX(0.9571)">consecutive losses</span></div>
<div class="t v" style="right:5px;text-align:right">1</div>
</div>
<div class="r g" style="top:361px">
</div>
<div style="position:absolute;left:639px;top:2px;width:1243px;height:15px;box-sizing:border-box;border:1px solid #3c6a3c;background:#98fb88"></div>
<div style="position:absolute;left:683px;top:3px;width:1px;height:13px;background:#b4e8ac"></div>
<div style="position:absolute;left:873px;top:3px;width:1px;height:13px;background:#b4e8ac"></div>
<div style="position:absolute;left:1050px;top:3px;width:1px;height:13px;background:#b4e8ac"></div>
<div style="position:absolute;left:1227px;top:3px;width:1px;height:13px;background:#b4e8ac"></div>
<div style="position:absolute;left:1358px;top:3px;width:1px;height:13px;background:#b4e8ac"></div>
<div style="position:absolute;left:1413px;top:3px;width:1px;height:13px;background:#b4e8ac"></div>
<div style="position:absolute;left:1539px;top:3px;width:1px;height:13px;background:#b4e8ac"></div>
<div style="position:absolute;left:1590px;top:3px;width:1px;height:13px;background:#b4e8ac"></div>
<div style="position:absolute;left:1766px;top:3px;width:1px;height:13px;background:#b4e8ac"></div>
<div class="ob" style="left:510px;top:36px;width:100px;height:44px"></div>
<div class="ob" style="left:550px;top:131px;width:61px;height:42px"></div>
<div class="ob" style="left:636px;top:92px;width:1250px;height:28px"></div>
<div class="red" style="left:179px;top:156px;font-size:25.6px;letter-spacing:0.15px">Version 1.3</div>
<svg style="position:absolute;left:110px;top:215px" width="340" height="162"><rect x="10.2" y="9.8" width="316" height="142" rx="3" fill="#fff" fill-opacity="0.6" stroke="#a8a8a8" stroke-width="4"/><rect x="10.2" y="9.8" width="316" height="142" rx="3" fill="none" stroke="#7a7a7a" stroke-width="2.4" stroke-dasharray="1 2.3 2 1.7"/></svg>
<div class="red" style="left:135px;top:244px;font-size:26px;letter-spacing:0.25px">2018-2024</div>
<div class="red" style="left:135px;top:290px;font-size:25.4px">Defaut setting - 3% risk</div>
<div class="red" style="left:135px;top:337px;font-size:26.4px;letter-spacing:0.1px">1000 &gt; $2.3M Profit</div>
</body></html>
